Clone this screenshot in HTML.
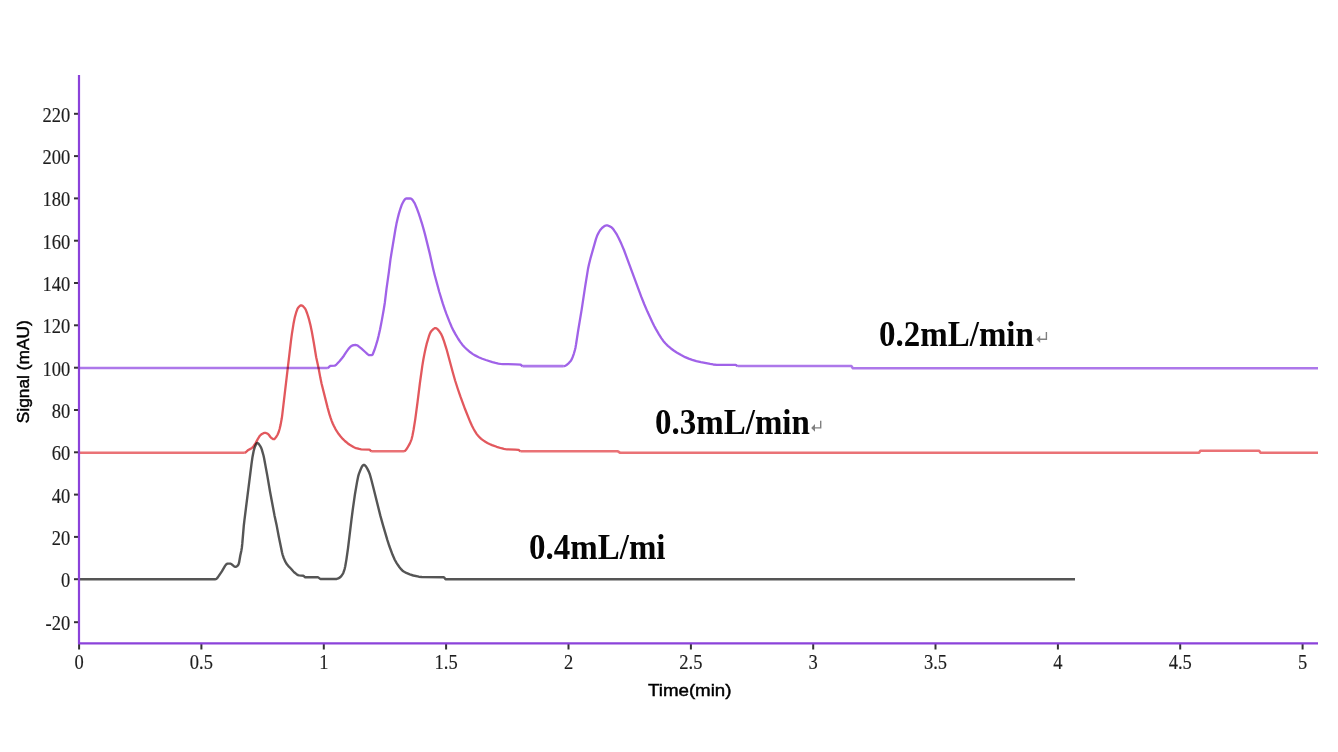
<!DOCTYPE html>
<html><head><meta charset="utf-8"><style>
html,body{margin:0;padding:0;background:#fff;}
body{width:1338px;height:752px;overflow:hidden;}
svg{display:block;}
.tk{font-family:"Liberation Serif",serif;font-size:18.5px;fill:#1e1e1e;stroke:#1e1e1e;stroke-width:0.15px;}
.tt{font-family:"Liberation Sans",sans-serif;font-size:17px;fill:#000;stroke:#000;stroke-width:0.45px;}
.big{font-family:"Liberation Serif",serif;font-weight:bold;font-size:33px;fill:#050505;}
</style></head><body>
<svg width="1338" height="752" viewBox="0 0 1338 752">
<defs></defs>
<path d="M79.00 579.20 L215.50 579.20 L216.03 579.08 L216.56 578.76 L217.62 577.62 L221.86 571.35 L225.05 565.88 L226.11 564.50 L226.64 564.02 L227.17 563.71 L227.70 563.60 L230.10 563.60 L230.64 563.69 L231.72 564.31 L233.88 566.19 L234.96 566.81 L235.50 566.90 L236.00 566.82 L237.00 566.25 L237.50 565.77 L238.50 564.50 L239.10 562.44 L240.30 555.50 L241.30 550.90 L241.80 548.00 L242.30 543.46 L243.80 525.60 L244.35 520.80 L251.45 464.35 L252.50 456.90 L253.60 451.32 L254.15 449.09 L254.70 447.40 L255.70 444.94 L256.20 443.94 L256.70 443.26 L257.20 443.00 L257.77 443.15 L258.33 443.55 L258.90 444.16 L260.60 446.70 L261.18 447.85 L261.76 449.39 L263.50 455.50 L264.05 457.99 L267.35 475.88 L270.10 492.00 L274.50 515.40 L276.70 525.60 L278.90 537.30 L282.00 552.17 L282.50 554.28 L283.51 557.46 L285.06 561.10 L286.09 562.99 L287.12 564.54 L288.18 565.80 L290.80 568.50 L293.43 571.52 L294.48 572.57 L296.54 574.17 L298.08 575.10 L299.10 575.40 L303.30 575.70 L303.90 576.13 L304.50 576.83 L305.10 577.20 L317.70 577.20 L318.20 577.33 L320.20 578.87 L320.70 579.00 L336.71 578.96 L338.26 578.41 L340.30 577.13 L341.30 576.11 L342.80 573.90 L343.40 572.67 L344.60 569.10 L345.20 566.54 L346.40 559.60 L348.00 548.35 L351.50 519.47 L353.00 507.80 L355.00 493.93 L357.16 481.40 L358.32 475.85 L358.90 473.90 L360.40 469.95 L361.40 467.69 L362.40 465.98 L362.90 465.40 L363.40 465.03 L363.90 464.90 L364.40 465.00 L364.90 465.30 L365.40 465.77 L366.40 467.13 L367.40 468.89 L368.90 471.90 L369.90 474.53 L370.90 478.05 L373.90 489.73 L380.40 515.91 L382.90 524.94 L387.40 540.08 L389.40 546.29 L392.58 554.83 L394.73 559.73 L396.80 563.32 L399.30 567.03 L401.30 569.46 L402.30 570.45 L403.30 571.27 L406.30 572.98 L409.80 574.44 L413.30 575.48 L418.80 576.70 L421.80 577.00 L443.70 577.20 L444.20 577.52 L445.20 578.89 L445.70 579.20 L1075.00 579.20" fill="none" stroke="#555555" stroke-width="2.40" stroke-linejoin="round" style="mix-blend-mode:multiply"/>
<path d="M244.80 452.70 L245.30 452.57 L245.80 452.23 L247.80 450.30 L250.95 448.62 L252.00 447.90 L252.51 447.43 L253.54 446.19 L255.60 443.10 L257.90 438.90 L259.90 435.74 L260.90 434.70 L261.95 434.02 L263.52 433.22 L264.58 432.94 L265.60 432.95 L266.60 433.27 L268.10 434.10 L268.60 434.52 L270.60 437.21 L271.10 437.70 L272.72 438.87 L273.26 439.11 L273.80 439.20 L274.34 439.04 L274.88 438.60 L276.50 436.50 L277.55 434.73 L278.60 432.30 L279.60 429.01 L280.63 424.62 L281.70 418.80 L282.20 415.31 L291.00 340.58 L292.00 333.20 L293.50 323.83 L294.50 318.66 L295.00 316.60 L296.10 312.71 L297.20 309.52 L297.75 308.33 L298.30 307.50 L299.30 306.42 L300.30 305.62 L300.80 305.38 L301.30 305.30 L301.81 305.39 L302.84 306.00 L304.39 307.66 L305.45 309.16 L306.00 310.31 L307.10 313.24 L308.20 316.60 L309.23 320.17 L310.27 324.35 L311.80 331.47 L313.80 342.80 L316.20 357.20 L318.60 368.30 L320.40 378.11 L321.60 383.69 L327.60 407.62 L329.40 414.13 L330.60 417.90 L331.67 420.82 L332.73 423.46 L333.80 425.80 L335.37 428.82 L336.93 431.48 L338.50 433.80 L340.63 436.54 L342.77 438.93 L344.90 441.00 L347.57 443.24 L349.70 444.79 L353.48 447.04 L355.11 447.82 L356.20 448.20 L359.20 448.98 L361.20 449.32 L369.40 449.60 L370.00 450.03 L370.60 450.79 L371.20 451.20 M404.10 451.20 L404.63 451.08 L405.17 450.75 L406.23 449.58 L407.30 447.95 L409.48 444.16 L410.64 441.63 L411.22 440.08 L411.80 438.30 L412.38 436.05 L413.54 429.97 L415.28 419.12 L417.60 401.70 L419.92 382.99 L422.24 366.35 L423.40 359.30 L424.49 353.60 L425.57 348.45 L426.66 343.95 L428.87 336.46 L429.99 333.40 L430.54 332.24 L431.65 330.76 L433.30 329.10 L434.40 328.37 L434.95 328.17 L435.50 328.10 L436.02 328.18 L437.06 328.75 L437.58 329.20 L438.62 330.38 L440.18 332.54 L441.23 334.18 L442.30 336.50 L443.90 340.92 L446.57 349.29 L452.97 373.03 L455.10 380.50 L457.74 388.75 L460.37 396.41 L465.12 409.30 L470.39 422.33 L471.97 425.77 L473.52 428.72 L475.05 431.45 L476.57 433.86 L478.10 435.80 L479.65 437.38 L481.20 438.79 L483.27 440.42 L485.33 441.81 L487.40 443.00 L489.46 444.02 L492.03 445.13 L496.67 446.78 L501.33 448.23 L503.93 448.89 L505.48 449.15 L507.03 449.28 L515.30 449.56 L518.40 449.80 L518.90 450.05 L519.90 450.99 L520.40 451.20" fill="none" stroke="#e2585d" stroke-width="2.30" stroke-linejoin="round" style="mix-blend-mode:multiply"/>
<path d="M79.00 452.70 L244.80 452.70 M371.20 451.20 L404.10 451.20 M520.40 451.20 L617.30 451.20 L617.82 451.32 L618.33 451.61 L619.88 452.68 L620.40 452.80 L1198.80 452.80 L1199.37 452.28 L1199.93 451.32 L1200.50 450.80 L1259.00 450.80 L1259.60 451.32 L1260.20 452.28 L1260.80 452.80 L1318.00 452.80" fill="none" stroke="#ea7276" stroke-width="2.60" stroke-linejoin="round" style="mix-blend-mode:multiply"/>
<path d="M327.80 368.00 L328.32 367.79 L329.88 366.16 L330.40 365.90 L334.80 365.60 L335.33 365.42 L336.40 364.58 L339.50 361.29 L342.16 358.05 L343.90 355.70 L346.00 352.40 L348.50 348.87 L350.65 346.57 L351.75 345.72 L352.30 345.50 L353.84 345.18 L355.39 345.01 L356.43 345.06 L356.97 345.24 L358.03 345.86 L361.24 348.42 L365.50 352.24 L367.50 354.18 L368.50 354.91 L369.00 355.12 L369.50 355.20 L372.10 355.10 L372.67 354.47 L374.33 350.26 L375.40 347.23 L377.52 340.14 L378.55 336.06 L380.10 329.20 L381.90 319.85 L383.70 309.78 L384.90 302.20 L386.50 288.80 L388.90 271.90 L390.50 259.10 L395.47 229.06 L396.50 223.60 L397.66 218.42 L398.82 213.91 L400.43 208.53 L401.47 205.51 L402.50 203.20 L404.09 200.43 L405.14 199.05 L405.67 198.65 L406.20 198.50 L410.60 198.50 L411.11 198.62 L411.63 198.96 L412.66 200.11 L414.77 203.38 L416.47 207.46 L418.60 213.21 L420.10 217.60 L422.23 224.39 L423.93 230.32 L425.08 234.62 L429.72 253.38 L433.20 268.90 L434.75 275.18 L439.30 292.04 L442.83 303.64 L444.87 309.70 L446.40 313.90 L449.44 321.67 L451.47 326.43 L453.49 330.65 L455.56 334.40 L458.16 338.74 L460.24 341.87 L462.32 344.64 L464.40 347.00 L466.95 349.47 L470.00 352.04 L472.55 353.86 L475.10 355.40 L478.69 357.20 L482.27 358.73 L485.86 360.01 L492.40 362.05 L495.40 362.90 L498.40 363.56 L500.40 363.87 L502.90 364.05 L515.40 364.33 L520.40 364.60 L520.92 364.86 L521.98 365.87 L522.50 366.10 M563.60 366.10 L564.12 366.06 L565.17 365.78 L566.74 364.90 L568.83 363.08 L570.90 360.75 L571.90 358.92 L572.90 356.48 L573.90 353.51 L574.90 350.10 L575.47 347.65 L576.03 344.53 L578.30 329.80 L581.70 309.40 L585.10 286.80 L587.93 269.35 L589.00 264.24 L590.50 258.25 L596.00 238.91 L597.00 236.05 L597.50 234.90 L599.00 232.00 L600.50 229.65 L602.00 228.00 L604.04 226.39 L605.58 225.58 L606.60 225.40 L607.15 225.44 L608.25 225.69 L609.90 226.40 L611.51 227.34 L612.53 228.32 L614.07 230.32 L616.12 233.41 L617.17 235.19 L618.74 238.20 L621.35 243.83 L623.97 250.00 L641.13 296.40 L644.27 304.24 L647.41 311.58 L652.12 321.75 L654.21 325.96 L655.78 328.88 L658.80 334.07 L661.30 338.07 L663.30 340.91 L665.30 343.30 L667.87 345.84 L670.95 348.47 L674.03 350.73 L677.10 352.71 L681.13 355.07 L685.16 357.15 L688.69 358.65 L692.24 359.87 L696.32 361.05 L700.90 362.18 L710.11 363.98 L713.19 364.49 L716.79 364.79 L735.40 364.80 L735.95 364.99 L737.05 365.81 L737.60 366.00" fill="none" stroke="#a062e8" stroke-width="2.30" stroke-linejoin="round" style="mix-blend-mode:multiply"/>
<path d="M79.00 368.00 L327.80 368.00 M522.50 366.10 L563.60 366.10 M737.60 366.00 L851.20 366.00 L851.80 366.60 L852.40 367.70 L853.00 368.30 L1318.00 368.30" fill="none" stroke="#ad78ea" stroke-width="2.60" stroke-linejoin="round" style="mix-blend-mode:multiply"/>
<line x1="74" y1="622.2" x2="78" y2="622.2" stroke="#333" stroke-width="2"/>
<text class="tk" text-anchor="end" transform="translate(70.2,630.2) scale(1,1.12)">-20</text>
<line x1="74" y1="579.2" x2="78" y2="579.2" stroke="#333" stroke-width="2"/>
<text class="tk" text-anchor="end" transform="translate(70.2,587.2) scale(1,1.12)">0</text>
<line x1="74" y1="536.9" x2="78" y2="536.9" stroke="#333" stroke-width="2"/>
<text class="tk" text-anchor="end" transform="translate(70.2,544.9) scale(1,1.12)">20</text>
<line x1="74" y1="494.6" x2="78" y2="494.6" stroke="#333" stroke-width="2"/>
<text class="tk" text-anchor="end" transform="translate(70.2,502.6) scale(1,1.12)">40</text>
<line x1="74" y1="452.3" x2="78" y2="452.3" stroke="#333" stroke-width="2"/>
<text class="tk" text-anchor="end" transform="translate(70.2,460.3) scale(1,1.12)">60</text>
<line x1="74" y1="410.0" x2="78" y2="410.0" stroke="#333" stroke-width="2"/>
<text class="tk" text-anchor="end" transform="translate(70.2,418.0) scale(1,1.12)">80</text>
<line x1="74" y1="367.7" x2="78" y2="367.7" stroke="#333" stroke-width="2"/>
<text class="tk" text-anchor="end" transform="translate(70.2,375.7) scale(1,1.12)">100</text>
<line x1="74" y1="325.3" x2="78" y2="325.3" stroke="#333" stroke-width="2"/>
<text class="tk" text-anchor="end" transform="translate(70.2,333.3) scale(1,1.12)">120</text>
<line x1="74" y1="283.0" x2="78" y2="283.0" stroke="#333" stroke-width="2"/>
<text class="tk" text-anchor="end" transform="translate(70.2,291.0) scale(1,1.12)">140</text>
<line x1="74" y1="240.7" x2="78" y2="240.7" stroke="#333" stroke-width="2"/>
<text class="tk" text-anchor="end" transform="translate(70.2,248.7) scale(1,1.12)">160</text>
<line x1="74" y1="198.4" x2="78" y2="198.4" stroke="#333" stroke-width="2"/>
<text class="tk" text-anchor="end" transform="translate(70.2,206.4) scale(1,1.12)">180</text>
<line x1="74" y1="156.1" x2="78" y2="156.1" stroke="#333" stroke-width="2"/>
<text class="tk" text-anchor="end" transform="translate(70.2,164.1) scale(1,1.12)">200</text>
<line x1="74" y1="113.8" x2="78" y2="113.8" stroke="#333" stroke-width="2"/>
<text class="tk" text-anchor="end" transform="translate(70.2,121.8) scale(1,1.12)">220</text>
<line x1="79.1" y1="644" x2="79.1" y2="649.5" stroke="#333" stroke-width="2"/>
<text class="tk" text-anchor="middle" transform="translate(79.1,668.9) scale(1,1.09)">0</text>
<line x1="201.4" y1="644" x2="201.4" y2="649.5" stroke="#333" stroke-width="2"/>
<text class="tk" text-anchor="middle" transform="translate(201.4,668.9) scale(1,1.09)">0.5</text>
<line x1="323.8" y1="644" x2="323.8" y2="649.5" stroke="#333" stroke-width="2"/>
<text class="tk" text-anchor="middle" transform="translate(323.8,668.9) scale(1,1.09)">1</text>
<line x1="446.1" y1="644" x2="446.1" y2="649.5" stroke="#333" stroke-width="2"/>
<text class="tk" text-anchor="middle" transform="translate(446.1,668.9) scale(1,1.09)">1.5</text>
<line x1="568.5" y1="644" x2="568.5" y2="649.5" stroke="#333" stroke-width="2"/>
<text class="tk" text-anchor="middle" transform="translate(568.5,668.9) scale(1,1.09)">2</text>
<line x1="690.9" y1="644" x2="690.9" y2="649.5" stroke="#333" stroke-width="2"/>
<text class="tk" text-anchor="middle" transform="translate(690.9,668.9) scale(1,1.09)">2.5</text>
<line x1="813.2" y1="644" x2="813.2" y2="649.5" stroke="#333" stroke-width="2"/>
<text class="tk" text-anchor="middle" transform="translate(813.2,668.9) scale(1,1.09)">3</text>
<line x1="935.5" y1="644" x2="935.5" y2="649.5" stroke="#333" stroke-width="2"/>
<text class="tk" text-anchor="middle" transform="translate(935.5,668.9) scale(1,1.09)">3.5</text>
<line x1="1057.9" y1="644" x2="1057.9" y2="649.5" stroke="#333" stroke-width="2"/>
<text class="tk" text-anchor="middle" transform="translate(1057.9,668.9) scale(1,1.09)">4</text>
<line x1="1180.2" y1="644" x2="1180.2" y2="649.5" stroke="#333" stroke-width="2"/>
<text class="tk" text-anchor="middle" transform="translate(1180.2,668.9) scale(1,1.09)">4.5</text>
<line x1="1302.6" y1="644" x2="1302.6" y2="649.5" stroke="#333" stroke-width="2"/>
<text class="tk" text-anchor="middle" transform="translate(1302.6,668.9) scale(1,1.09)">5</text>
<line x1="79" y1="75" x2="79" y2="644" stroke="#8b42da" stroke-width="2.2"/>
<line x1="78" y1="643.3" x2="1318" y2="643.3" stroke="#8b42da" stroke-width="2.3"/>
<text class="tt" transform="translate(29.4,423.2) rotate(-90)" textLength="103" lengthAdjust="spacingAndGlyphs">Signal (mAU)</text>
<text class="tt" x="648" y="695.7" textLength="83.5" lengthAdjust="spacingAndGlyphs">Time(min)</text>
<text class="big" transform="translate(879,345.5) scale(1,1.065)">0.2mL/min</text><path d="M1046.4 332.1 V339.2 H1039.4" fill="none" stroke="#808080" stroke-width="1.4"/><path d="M1036.4 339.2 L1040.2 335.4 L1040.2 343.0 Z" fill="#808080"/>
<text class="big" transform="translate(655,434.3) scale(1,1.065)">0.3mL/min</text><path d="M820.7 420.8 V427.9 H814.2" fill="none" stroke="#808080" stroke-width="1.4"/><path d="M811.2 427.9 L815.0 424.1 L815.0 431.7 Z" fill="#808080"/>
<text class="big" transform="translate(529,559.3) scale(1,1.065)">0.4mL/mi</text>
</svg>
</body></html>
